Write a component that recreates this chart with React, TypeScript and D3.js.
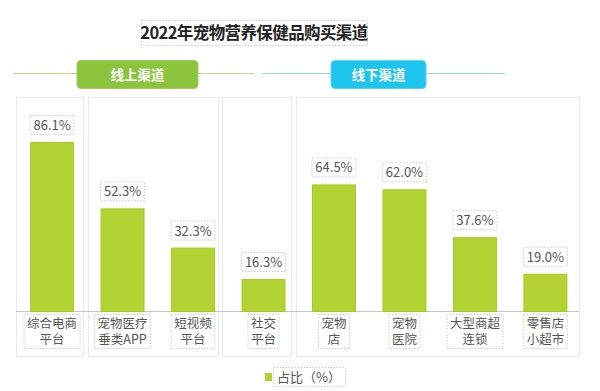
import React from "react";
import * as d3 from "d3";

const categories = ["综合电商\n平台", "宠物医疗\n垂类APP", "短视频\n平台", "社交\n平台", "宠物\n店", "宠物\n医院", "大型商超\n连锁", "零售店\n小超市"];
const values = [86.1, 52.3, 32.3, 16.3, 64.5, 62.0, 37.6, 19.0];
const panelGroups = [[0], [1, 2], [3], [4, 5, 6, 7]];
const title = "2022年宠物营养保健品购买渠道";
const groupTitles = ["线上渠道", "线下渠道"];
const legendLabel = "占比（%）";

const W = 600, H = 391;
const FONT = "'Noto Sans CJK SC', 'Noto Sans', sans-serif";

export default function App() {
  const x = d3.scaleBand<number>().domain(d3.range(categories.length)).range([16, 581.5]).paddingInner(0.376).paddingOuter(0.2);
  const baseY = 311;
  const y = d3.scaleLinear().domain([0, 100]).range([baseY, baseY - 196.3]);
  const panelBounds = [[16, 83], [88, 218], [222, 291], [296, 579]];

  return (
    <svg width={W} height={H} style={{ position: "absolute", left: 0, top: 0, background: "#fff" }} fontFamily={FONT}>
      <rect width={W} height={H} fill="#fff" />
      {/* title */}
      <rect x={141.5} y={20.5} width={226} height={25} fill="none" stroke="#ccc" strokeDasharray="1.5,1.5" />
      <text x={254} y={39} textAnchor="middle" fontSize={16.5} fontWeight="bold" letterSpacing={-0.6} fill="#222">{title}</text>
      {/* group headers */}
      <line x1={13} x2={254} y1={73.5} y2={73.5} stroke="#b5dc8f" strokeWidth={1.2} />
      <rect x={77} y={60.5} width={121} height={28} rx={4} fill="#8cc43e" stroke="#9fd155" />
      <text x={137.5} y={79.5} textAnchor="middle" fontSize={13.5} fontWeight="bold" fill="#fff">{groupTitles[0]}</text>
      <line x1={262} x2={505} y1={73.5} y2={73.5} stroke="#8fd8f3" strokeWidth={1.2} />
      <rect x={331} y={60.5} width={95} height={28} rx={4} fill="#1ec5ee" stroke="#5fd5f3" />
      <text x={378.5} y={79.5} textAnchor="middle" fontSize={13.5} fontWeight="bold" fill="#fff">{groupTitles[1]}</text>
      {/* panels */}
      {panelGroups.map((g, i) => (
        <rect key={i} x={panelBounds[i][0] + 0.5} y={97.5} width={panelBounds[i][1] - panelBounds[i][0]} height={259} fill="none" stroke="#ebebeb" strokeWidth={1} />
      ))}
      {/* baseline */}
      <line x1={16} x2={579} y1={baseY + 0.5} y2={baseY + 0.5} stroke="#c8c8c8" />
      {/* bars */}
      {values.map((v, i) => {
        const bx = x(i)!;
        const bw = x.bandwidth();
        const top = y(v);
        const cx = bx + bw / 2;
        const lines = categories[i].split("\n");
        const maxLen = d3.max(lines, (l) => l.length)!;
        const hasLatin = /[A-Z]/.test(categories[i]);
        const lw = hasLatin ? 56 : maxLen * 12.5 + 6;
        return (
          <g key={i}>
            <rect x={bx + 0.5} y={top + 0.5} width={bw - 1} height={baseY - top} fill="#b3d334" stroke="#a6cb22" strokeWidth={1} />
            <rect x={cx - 22} y={top - 26.5} width={44} height={19} fill="none" stroke="#ccc" strokeDasharray="1.5,1.5" />
            <text x={cx} y={top - 12} textAnchor="middle" fontSize={13} fill="#555">{v.toFixed(1) + "%"}</text>
            <rect x={cx - lw / 2} y={314.5} width={lw} height={34} fill="none" stroke="#ccc" strokeDasharray="1.5,1.5" />
            {lines.map((l, j) => (
              <text key={j} x={cx} y={327.5 + j * 16} textAnchor="middle" fontSize={12.5} fill="#555">{l}</text>
            ))}
          </g>
        );
      })}
      {/* legend */}
      <rect x={265} y={373} width={7} height={8} fill="#b3d334" />
      <rect x={273.5} y={367.5} width={72} height={19} fill="none" stroke="#ccc" strokeDasharray="1.5,1.5" />
      <text x={277} y={382} fontSize={13} fill="#555">{legendLabel}</text>
    </svg>
  );
}
